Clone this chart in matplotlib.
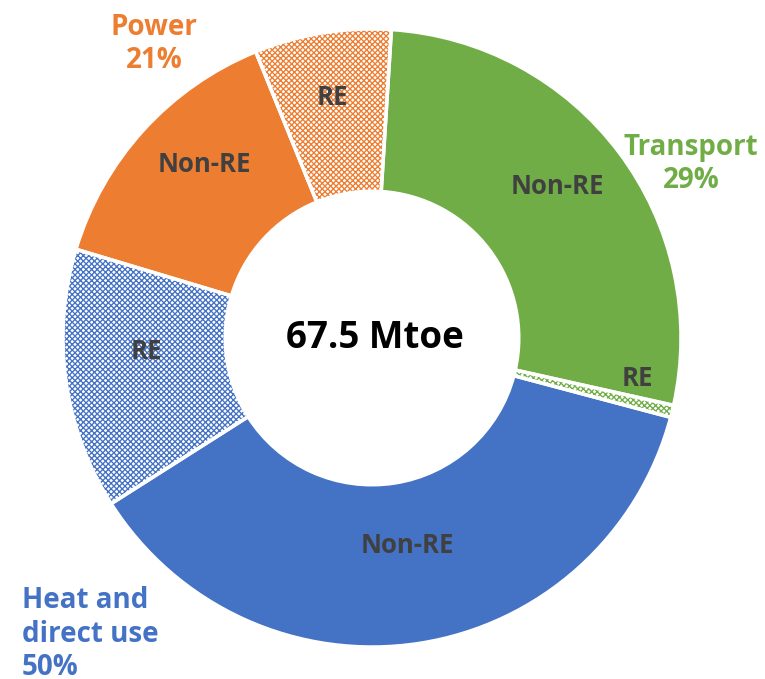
import matplotlib
matplotlib.use('Agg')
import matplotlib.pyplot as plt
import numpy as np

matplotlib.rcParams['font.family'] = ['Open Sans', 'DejaVu Sans']
matplotlib.rcParams['font.weight'] = 'bold'
matplotlib.rcParams['hatch.linewidth'] = 0.95

# energy use by sector, Mtoe
kinds = ['Non-RE', 'RE', 'Non-RE', 'RE', 'Non-RE', 'RE']
values = [18.56, 0.43, 24.88, 9.21, 9.60, 4.82]
sectors = ['Transport', 'Heat and\ndirect use', 'Power']
shares = [29, 50, 21]
total_text = '67.5 Mtoe'

blue, orange, green = '#4472C4', '#ED7D31', '#70AD47'
sector_colors = [green, blue, orange]
colors = [green, green, blue, blue, orange, orange]
hatches = [None, 'xxxxxx', None, 'xxxxxx', None, 'xxxxxx']

W, H = 765, 679
cx, cy, R = 372, 338, 309  # pixel centre / radius of the ring

fig = plt.figure(figsize=(W / 100, H / 100), dpi=100)
ax = fig.add_axes([0, 0, 1, 1])

ring = 0.525
wedges, _ = ax.pie(values, colors=colors, startangle=86.4, counterclock=False,
                   radius=1, wedgeprops={'width': ring, 'linewidth': 0})
for w, c, h in zip(wedges, colors, hatches):
    if h:
        w.set_facecolor('white')
        w.set_edgecolor(c)
        w.set_hatch(h)
        w.set_linewidth(0)

# white separators
ax.pie(values, colors=['none'] * 6, startangle=86.4, counterclock=False,
       radius=1, wedgeprops={'width': ring, 'linewidth': 2.5, 'edgecolor': 'white',
                             'fill': False})

ax.set_aspect('auto')
ax.set_xlim(-cx / R, (W - cx) / R)
ax.set_ylim(-(H - cy) / R, cy / R)
ax.axis('off')

# slice labels
label_r = [0.775, 0.87, 0.68, 0.73, 0.78, 0.79]
label_shift = [2.3, 5, 0.8, -4.5, -3.7, 0]
for w, k, r, s in zip(wedges, kinds, label_r, label_shift):
    mid = np.deg2rad((w.theta1 + w.theta2) / 2 + s)
    ax.text(r * np.cos(mid), r * np.sin(mid), k, ha='center', va='center',
            fontsize=18.5, color='#404040', fontweight='bold')

ax.text(0.01, 0, total_text, ha='center', va='center', fontsize=26.5,
        color='black', fontweight='bold')

# sector labels (baseline of the last line)
fig.text(691 / W, 1 - 188 / H, f'{sectors[0]}\n{shares[0]}%', ha='center',
         va='baseline', fontsize=20, color=sector_colors[0], fontweight='bold',
         linespacing=1.2)
fig.text(22 / W, 1 - 675 / H, f'{sectors[1]}\n{shares[1]}%', ha='left',
         va='baseline', fontsize=20, color=sector_colors[1], fontweight='bold',
         linespacing=1.2)
fig.text(154 / W, 1 - 68 / H, f'{sectors[2]}\n{shares[2]}%', ha='center',
         va='baseline', fontsize=20, color=sector_colors[2], fontweight='bold',
         linespacing=1.2)

fig.savefig('out.png', dpi=100)
